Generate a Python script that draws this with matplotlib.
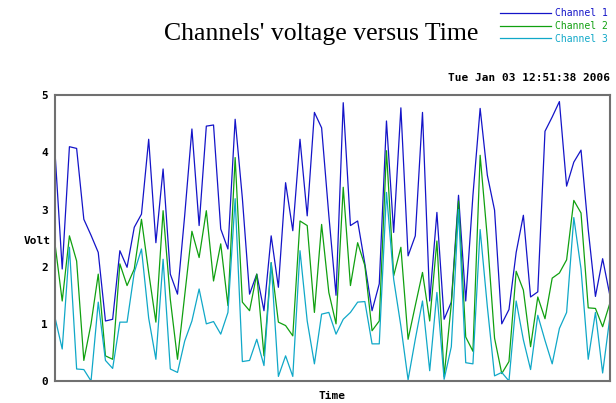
import matplotlib.pyplot as plt

# Channel readings, one sample per time step
channel1 = [4.0, 1.96, 4.10, 4.07, 2.83, 2.55, 2.25, 1.05, 1.08, 2.28,
            1.99, 2.69, 2.92, 4.23, 2.42, 3.71, 1.87, 1.52, 2.9, 4.41,
            2.72, 4.46, 4.48, 2.66, 2.31, 4.58, 3.2, 1.52, 1.87, 1.23,
            2.54, 1.64, 3.47, 2.63, 4.23, 2.89, 4.70, 4.43, 2.9, 1.50,
            4.87, 2.72, 2.80, 2.05, 1.23, 1.70, 4.55, 2.60, 4.78, 2.19,
            2.54, 4.70, 1.40, 2.95, 1.08, 1.38, 3.25, 1.40, 3.25, 4.77,
            3.6, 2.99, 1.0, 1.25, 2.25, 2.9, 1.47, 1.56, 4.37, 4.62,
            4.89, 3.41, 3.83, 4.04, 2.65, 1.48, 2.14, 1.5]
channel2 = [2.40, 1.40, 2.54, 2.1, 0.36, 1.0, 1.87, 0.44, 0.38, 2.05,
            1.67, 1.96, 2.83, 1.9, 1.03, 2.98, 1.43, 0.38, 1.5, 2.62,
            2.16, 2.98, 1.75, 2.40, 1.32, 3.91, 1.38, 1.23, 1.87, 0.44,
            2.07, 1.03, 0.97, 0.79, 2.80, 2.72, 1.20, 2.74, 1.55, 1.0,
            3.39, 1.67, 2.42, 2.02, 0.88, 1.05, 4.03, 1.84, 2.34, 0.73,
            1.32, 1.90, 1.05, 2.45, 0.08, 1.35, 3.15, 0.77, 0.52, 3.95,
            2.5, 0.75, 0.13, 0.34, 1.92, 1.59, 0.60, 1.47, 1.09, 1.80,
            1.89, 2.12, 3.16, 2.94, 1.28, 1.27, 0.95, 1.36]
channel3 = [1.11, 0.56, 2.34, 0.21, 0.20, 0.0, 1.38, 0.36, 0.22, 1.03,
            1.03, 1.90, 2.31, 1.1, 0.38, 2.13, 0.21, 0.15, 0.7, 1.05,
            1.61, 1.0, 1.04, 0.82, 1.20, 3.19, 0.34, 0.36, 0.73, 0.27,
            2.07, 0.08, 0.44, 0.08, 2.28, 1.05, 0.30, 1.17, 1.20, 0.82,
            1.08, 1.20, 1.38, 1.39, 0.65, 0.65, 3.30, 1.78, 0.96, 0.02,
            0.73, 1.4, 0.18, 1.55, 0.03, 0.6, 3.0, 0.32, 0.30, 2.65,
            1.3, 0.09, 0.15, 0.0, 1.40, 0.72, 0.20, 1.15, 0.71, 0.30,
            0.92, 1.2, 2.86, 1.96, 0.38, 1.2, 0.14, 1.11]
labels = ['Channel 1', 'Channel 2', 'Channel 3']
colors = ['#1414c8', '#10a010', '#10a8c8']
yticks = [0, 1, 2, 3, 4, 5]
date_text = 'Tue Jan 03 12:51:38 2006'

t = list(range(len(channel1)))

fig = plt.figure(figsize=(6.16, 4.03), dpi=100)
ax = fig.add_axes([0.0893, 0.0546, 0.9007, 0.709])

for data, lab, c in zip([channel1, channel2, channel3], labels, colors):
    ax.plot(t, data, color=c, linewidth=0.9, label=lab)

ax.set_xlim(0, len(t) - 1)
ax.set_ylim(0, 5)
ax.set_xticks([])
ax.set_yticks(yticks)
ax.set_yticklabels([str(v) for v in yticks], family='DejaVu Sans Mono',
                   fontsize=8, fontweight='bold')
ax.tick_params(axis='y', length=0, pad=5)
for side in ax.spines.values():
    side.set_color('#707070')
    side.set_linewidth(1.5)

ax.set_xlabel('Time', family='DejaVu Sans Mono', fontsize=8,
              fontweight='bold', labelpad=7)
fig.text(24 / 616, 1 - 241 / 403, 'Volt', family='DejaVu Sans Mono', fontsize=8,
         fontweight='bold', ha='left', va='center')

fig.text(0.522, 0.915, "Channels' voltage versus Time", family='Liberation Serif',
         fontsize=18.5, ha='center', va='center')
fig.text(0.990, 0.806, date_text, family='DejaVu Sans Mono', fontsize=8,
         fontweight='bold', ha='right', va='center')

# legend in the top right corner, text in line colour
leg = fig.legend(loc='upper right', bbox_to_anchor=(608 / 616, 1 - 8 / 403),
                 frameon=False, prop={'family': 'DejaVu Sans Mono', 'size': 7},
                 handlelength=5.25, handletextpad=0.45, labelspacing=0.3,
                 borderaxespad=0, borderpad=0)
for txt, c in zip(leg.get_texts(), colors):
    txt.set_color(c)

fig.savefig('out.png', dpi=100)
